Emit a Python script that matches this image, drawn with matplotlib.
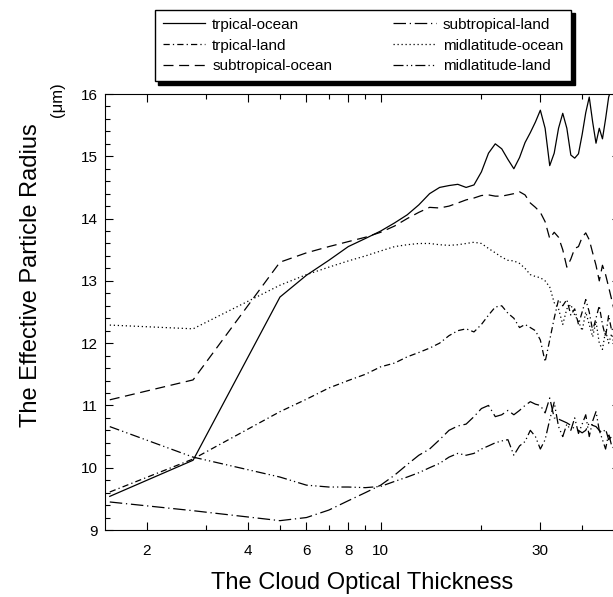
import matplotlib
matplotlib.use('Agg')
import matplotlib.pyplot as plt
from matplotlib.ticker import FixedLocator, NullFormatter, MultipleLocator

plt.rcParams['font.family'] = ['Liberation Sans', 'DejaVu Sans']

# cloud optical thickness bins
tau = [1.55, 2.75] + list(range(5, 51))

trop_ocean = [9.54, 10.12, 12.74, 13.09, 13.33, 13.55, 13.68, 13.80, 13.93, 14.06,
              14.22, 14.40, 14.50, 14.53, 14.55, 14.50, 14.54, 14.75, 15.05, 15.20,
              15.12, 14.95, 14.80, 14.98, 15.22, 15.38, 15.55, 15.74, 15.45, 14.85,
              15.05, 15.45, 15.69, 15.45, 15.02, 14.97, 15.04, 15.35, 15.70, 15.95,
              15.55, 15.21, 15.45, 15.28, 15.60, 15.95, 16.10, 16.30]
trop_land = [9.61, 10.14, 10.90, 11.10, 11.28, 11.40, 11.50, 11.62, 11.68, 11.78,
             11.85, 11.92, 12.00, 12.12, 12.20, 12.23, 12.18, 12.30, 12.45, 12.58,
             12.60, 12.48, 12.40, 12.25, 12.30, 12.25, 12.20, 12.05, 11.70, 12.05,
             12.40, 12.70, 12.60, 12.70, 12.45, 12.55, 12.30, 12.50, 12.70, 12.50,
             12.20, 12.40, 12.60, 12.30, 12.10, 12.45, 12.20, 12.30]
subtrop_ocean = [11.09, 11.41, 13.30, 13.45, 13.55, 13.63, 13.70, 13.78, 13.88, 14.00,
                 14.10, 14.18, 14.17, 14.20, 14.25, 14.30, 14.33, 14.37, 14.38, 14.36,
                 14.36, 14.38, 14.40, 14.43, 14.38, 14.25, 14.18, 14.10, 13.95, 13.68,
                 13.78, 13.70, 13.50, 13.22, 13.35, 13.52, 13.55, 13.70, 13.77, 13.66,
                 13.45, 13.25, 13.00, 13.25, 13.10, 12.90, 12.70, 12.50]
subtrop_land = [9.45, 9.31, 9.15, 9.20, 9.32, 9.47, 9.60, 9.72, 9.88, 10.05,
                10.20, 10.30, 10.45, 10.60, 10.67, 10.70, 10.82, 10.95, 11.00, 10.82,
                10.85, 10.92, 10.85, 10.92, 11.00, 11.06, 11.02, 11.00, 10.88, 11.12,
                10.80, 10.78, 10.75, 10.72, 10.68, 10.62, 10.60, 10.56, 10.60, 10.72,
                10.68, 10.66, 10.60, 10.56, 10.62, 10.45, 10.50, 10.55]
mid_ocean = [12.29, 12.23, 12.93, 13.10, 13.22, 13.32, 13.40, 13.48, 13.55, 13.58,
             13.60, 13.60, 13.58, 13.57, 13.58, 13.60, 13.62, 13.60, 13.52, 13.45,
             13.38, 13.33, 13.32, 13.28, 13.20, 13.10, 13.07, 13.05, 13.00, 12.90,
             12.65, 12.55, 12.30, 12.55, 12.62, 12.45, 12.35, 12.20, 12.50, 12.30,
             12.10, 12.35, 12.00, 11.90, 12.20, 12.00, 12.15, 11.95]
mid_land = [10.66, 10.17, 9.85, 9.72, 9.69, 9.69, 9.68, 9.70, 9.78, 9.85,
            9.92, 10.00, 10.07, 10.17, 10.23, 10.20, 10.23, 10.30, 10.35, 10.40,
            10.43, 10.45, 10.20, 10.35, 10.42, 10.60, 10.50, 10.30, 10.45, 10.77,
            11.05, 10.66, 10.50, 10.70, 10.60, 10.80, 10.55, 10.70, 10.85, 10.50,
            10.75, 10.90, 10.60, 10.45, 10.30, 10.55, 10.35, 10.30]

names = ['trpical-ocean', 'trpical-land', 'subtropical-ocean',
         'subtropical-land', 'midlatitude-ocean', 'midlatitude-land']
series = [trop_ocean, trop_land, subtrop_ocean, subtrop_land, mid_ocean, mid_land]
dashes = [None, (5, 2.5, 1, 2.5), (8, 4.5), (10, 3, 1, 3), (1, 2.2), (8, 2.5, 1, 2.5, 1, 2.5)]

fig = plt.figure(figsize=(6.13, 5.97), dpi=100)
# axes run a little past the right edge of the figure
ax = fig.add_axes([105 / 613, 67 / 597, 515 / 613, 436 / 597])

for name, vals, d in zip(names, series, dashes):
    line, = ax.plot(tau, vals, color='black', lw=0.9, label=name)
    if d is not None:
        line.set_dashes(d)

ax.set_xscale('log')
ax.set_xlim(1.5, 51.9)
ax.set_ylim(9, 16)

ax.xaxis.set_major_locator(FixedLocator([2, 4, 6, 8, 10, 30]))
ax.xaxis.set_minor_locator(FixedLocator([3, 5, 7, 9, 20, 40]))
ax.set_xticklabels(['2', '4', '6', '8', '10', '30'])
ax.xaxis.set_minor_formatter(NullFormatter())
ax.yaxis.set_major_locator(MultipleLocator(1))
ax.yaxis.set_minor_locator(MultipleLocator(0.2))

ax.tick_params(which='both', direction='in', top=True, right=True, labelsize=11)
ax.tick_params(axis='x', pad=10)
ax.tick_params(axis='y', pad=5)
ax.tick_params(which='major', length=6, width=0.8)
ax.tick_params(which='minor', length=3.5, width=0.8)
for sp in ax.spines.values():
    sp.set_linewidth(0.8)

ax.set_xlabel('The Cloud Optical Thickness', fontsize=17, labelpad=10)
ax.set_ylabel('The Effective Particle Radius', fontsize=17)
ax.yaxis.set_label_coords(-0.122, 0.585)
fig.text(58 / 613, 1 - 100 / 597, '(\u03bcm)', rotation=90, fontsize=12,
         ha='center', va='center')

leg = fig.legend(loc='upper left', bbox_to_anchor=(155 / 613, 1 - 10 / 597),
                 ncol=2, fontsize=11, frameon=True, fancybox=False,
                 shadow={'color': 'black', 'alpha': 1, 'ox': 2.5, 'oy': -2.5},
                 edgecolor='black', handlelength=2.8, columnspacing=4.0,
                 labelspacing=0.45, borderpad=0.5, handletextpad=0.45,
                 borderaxespad=0)
leg.get_frame().set_linewidth(1.0)

fig.savefig('out.png', dpi=100)
